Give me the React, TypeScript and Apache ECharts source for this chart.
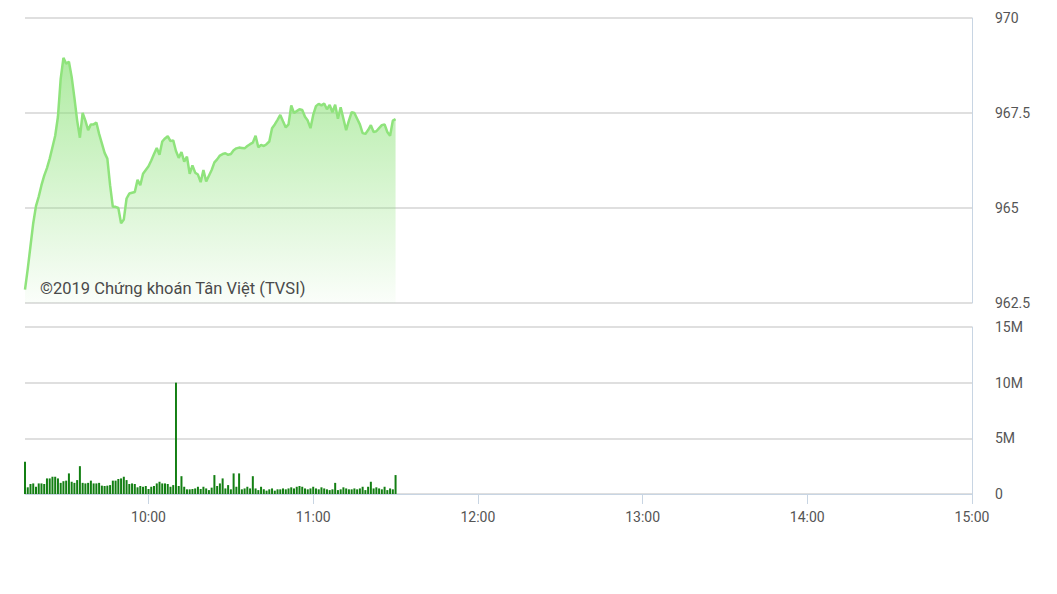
import React, { useEffect, useRef } from "react";
import * as echarts from "echarts";

// minutes since 00:00 of the first point (09:15), one point per minute
const startMinute = 555;
const priceValues = [
  962.85, 963.4, 964.0, 964.6, 965.05, 965.3, 965.6, 965.85, 966.05, 966.3,
  966.6, 966.9, 967.4, 968.4, 968.95, 968.8, 968.85, 968.45, 967.9, 967.3,
  966.85, 967.5, 967.3, 967.05, 967.2, 967.2, 967.25, 966.95, 966.7, 966.45,
  966.3, 965.6, 965.03, 965.03, 965.0, 964.6, 964.7, 965.25, 965.38, 965.4,
  965.42, 965.74, 965.6, 965.9, 966.0, 966.1, 966.25, 966.42, 966.58, 966.4,
  966.75, 966.83, 966.89, 966.76, 966.78, 966.5, 966.32, 966.47, 966.22, 966.35,
  965.9, 966.12, 965.93, 965.88, 965.68, 966.0, 965.7, 965.85, 966.0, 966.2,
  966.28, 966.38, 966.42, 966.44, 966.4, 966.42, 966.52, 966.57, 966.59, 966.58,
  966.57, 966.63, 966.68, 966.72, 966.9, 966.6, 966.66, 966.63, 966.68, 966.75,
  967.1, 967.2, 967.32, 967.45, 967.28, 967.12, 967.2, 967.7, 967.5, 967.55,
  967.6, 967.58, 967.4, 967.3, 967.1, 967.45, 967.68, 967.74, 967.7, 967.75,
  967.6, 967.71, 967.52, 967.72, 967.35, 967.65, 967.35, 967.05, 967.3, 967.52,
  967.5, 967.35, 967.2, 966.97, 966.95, 967.05, 967.18, 967.0, 967.02, 967.1,
  967.18, 967.2, 967.0, 966.9, 967.3, 967.34,
];
// volume in millions of shares
const volumeValues = [
  2.9, 0.6, 0.9, 0.95, 0.65, 0.95, 0.95, 0.9, 1.4, 1.4,
  1.55, 1.55, 1.4, 1.0, 1.15, 1.2, 1.85, 1.1, 1.0, 1.25,
  2.5, 1.0, 0.95, 1.0, 1.2, 0.95, 0.95, 1.0, 0.75, 0.72,
  0.75, 0.8, 1.2, 1.2, 1.35, 1.4, 1.55, 1.25, 0.9, 0.95,
  0.9, 0.6, 0.72, 0.65, 0.72, 0.45, 0.65, 0.72, 0.95, 1.1,
  0.95, 0.95, 0.9, 0.65, 0.8, 10.0, 0.72, 1.6, 0.65, 0.42,
  0.42, 0.45, 0.5, 0.65, 0.45, 0.65, 0.5, 0.35, 0.57, 1.7,
  0.72, 0.95, 1.4, 0.5, 0.8, 0.42, 1.85, 0.65, 1.85, 0.42,
  0.5, 0.65, 0.5, 1.6, 0.5, 0.35, 0.65, 0.42, 0.3, 0.42,
  0.5, 0.3, 0.42, 0.42, 0.5, 0.42, 0.5, 0.6, 0.5, 0.65,
  0.72, 0.65, 0.5, 0.42, 0.5, 0.65, 0.5, 0.42, 0.6, 0.5,
  0.42, 0.35, 0.42, 1.0, 0.35, 0.42, 0.6, 0.5, 0.42, 0.42,
  0.5, 0.42, 0.5, 0.65, 0.35, 0.65, 1.1, 0.5, 0.6, 0.5,
  0.42, 0.65, 0.35, 0.5, 0.42, 1.7,
];
const timeTicks = [600, 660, 720, 780, 840, 900];
const priceTicks = [962.5, 965, 967.5, 970];
const watermark = "©2019 Chứng khoán Tân Việt (TVSI)";

const fmtTime = (v: number) => {
  const h = Math.floor(v / 60);
  const m = v % 60;
  return `${h}:${m < 10 ? "0" + m : m}`;
};

export default function App() {
  const ref = useRef<HTMLDivElement>(null);
  useEffect(() => {
    if (!ref.current) return;
    const chart = echarts.init(ref.current, undefined, { renderer: "svg" });
    const priceData = priceValues.map((v, i) => [startMinute + i, v]);
    const volData = volumeValues.map((v, i) => [startMinute + i, v * 1e6]);
    const axisColor = "#c8d5e3";
    const labelColor = "#555";
    const font = "Roboto";
    chart.setOption({
      animation: false,
      grid: [
        { left: 17, right: 77, top: 10, height: 285 },
        { left: 17, right: 77, top: 319, height: 167 },
      ],
      xAxis: [
        {
          type: "value",
          gridIndex: 0,
          min: 555,
          max: 900,
          show: false,
          splitLine: { show: false },
        },
        {
          type: "value",
          gridIndex: 1,
          min: 555,
          max: 900,
          axisLine: { show: true, lineStyle: { color: axisColor, width: 1 } },
          axisTick: {
            show: true,
            length: 10,
            lineStyle: { color: axisColor },
            customValues: timeTicks,
          },
          axisLabel: {
            color: labelColor,
            fontSize: 14,
            fontFamily: font,
            margin: 16,
            customValues: timeTicks,
            formatter: (v: number) => fmtTime(v),
          },
          splitLine: { show: false },
        },
      ],
      yAxis: [
        {
          type: "value",
          gridIndex: 0,
          position: "right",
          min: 962.5,
          max: 970,
          interval: 2.5,
          axisLine: { show: true, lineStyle: { color: axisColor } },
          axisTick: { show: false },
          axisLabel: {
            color: labelColor,
            fontSize: 14,
            fontFamily: font,
            margin: 23,
            customValues: priceTicks,
          },
          splitLine: { show: true, lineStyle: { color: "#d4d4d4", width: 1.5 } },
        },
        {
          type: "value",
          gridIndex: 1,
          position: "right",
          min: 0,
          max: 15e6,
          interval: 5e6,
          axisLine: { show: true, lineStyle: { color: axisColor } },
          axisTick: { show: false },
          axisLabel: {
            color: labelColor,
            fontSize: 14,
            fontFamily: font,
            margin: 23,
            formatter: (v: number) => (v === 0 ? "0" : `${v / 1e6}M`),
          },
          splitLine: { show: true, lineStyle: { color: "#d4d4d4", width: 1.5 } },
        },
      ],
      graphic: [
        {
          type: "text",
          left: 32,
          top: 272,
          z: 10,
          style: {
            text: watermark,
            fill: "#4a4a4a",
            fontSize: 16.5,
            fontFamily: font,
          },
        },
      ],
      series: [
        {
          type: "line",
          xAxisIndex: 0,
          yAxisIndex: 0,
          data: priceData,
          symbol: "none",
          lineStyle: { color: "#8fe37c", width: 2.5 },
          areaStyle: {
            color: new echarts.graphic.LinearGradient(0, 0, 0, 1, [
              { offset: 0, color: "rgba(135,225,115,0.95)" },
              { offset: 1, color: "rgba(135,225,115,0.05)" },
            ]),
          },
        },
        {
          type: "bar",
          xAxisIndex: 1,
          yAxisIndex: 1,
          data: volData,
          barWidth: 2,
          itemStyle: { color: "#137f13" },
        },
      ],
    });
    return () => chart.dispose();
  }, []);
  return <div ref={ref} style={{ width: 1041, height: 578 }} />;
}
